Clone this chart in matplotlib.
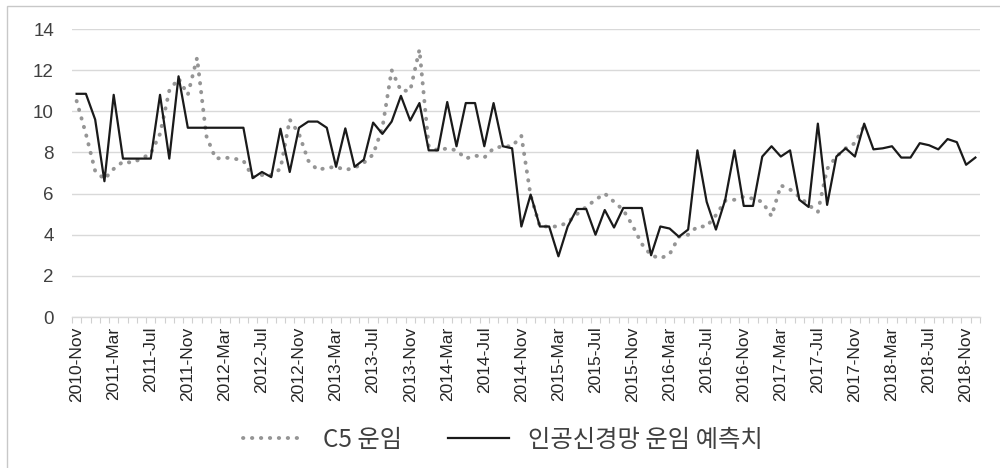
import numpy as np
import pandas as pd
import matplotlib
matplotlib.use("Agg")
import matplotlib.pyplot as plt
from matplotlib.lines import Line2D
from matplotlib.patches import Rectangle

# Monthly categories, 2010-Nov .. 2018-Dec
months = [p.strftime("%Y-%b") for p in pd.period_range("2010-11", "2018-12", freq="M")]

# C5 freight rate (actual), available through 2017-Dec
c5_rate = [
    10.5, 8.9, 7.1, 6.7, 7.2, 7.55, 7.5, 7.7, 7.95, 8.9,
    11.0, 11.6, 10.8, 12.6, 8.8, 7.7, 7.75, 7.7, 7.6, 6.8,
    6.9, 6.9, 7.2, 9.6, 8.9, 7.6, 7.15, 7.25, 7.3, 7.15,
    7.25, 7.5, 7.9, 9.2, 12.0, 11.0, 11.0, 13.0, 8.3, 8.1,
    8.2, 8.1, 7.7, 7.85, 7.75, 8.2, 8.3, 8.3, 8.8, 5.9,
    4.4, 4.4, 4.4, 4.6, 5.0, 5.35, 5.7, 6.0, 5.6, 5.2,
    4.45, 3.55, 3.0, 2.85, 3.05, 3.9, 4.0, 4.4, 4.4, 4.95,
    5.65, 5.7, 5.85, 5.75, 5.6, 4.9, 6.4, 6.2, 5.85, 5.45,
    5.1, 7.2, 7.8, 8.2, 8.45, 9.3,
]

# Neural-network forecast of the freight rate
ann_forecast = [
    10.85, 10.85, 9.6, 6.6, 10.8, 7.7, 7.7, 7.7, 7.7, 10.8,
    7.7, 11.7, 9.2, 9.2, 9.2, 9.2, 9.2, 9.2, 9.2, 6.75,
    7.05, 6.8, 9.15, 7.05, 9.2, 9.5, 9.5, 9.2, 7.3, 9.17,
    7.3, 7.65, 9.45, 8.9, 9.5, 10.75, 9.55, 10.4, 8.1, 8.1,
    10.45, 8.3, 10.4, 10.4, 8.3, 10.4, 8.3, 8.2, 4.4, 5.95,
    4.4, 4.4, 2.95, 4.4, 5.25, 5.25, 4.0, 5.2, 4.35, 5.3,
    5.3, 5.3, 3.0, 4.4, 4.3, 3.9, 4.25, 8.1, 5.6, 4.25,
    5.7, 8.1, 5.4, 5.4, 7.8, 8.3, 7.8, 8.1, 5.7, 5.35,
    9.4, 5.45, 7.8, 8.2, 7.8, 9.4, 8.15, 8.2, 8.3, 7.75,
    7.75, 8.45, 8.35, 8.15, 8.65, 8.5, 7.4, 7.75,
]

series_names = ["C5 운임", "인공신경망 운임 예측치"]
y_ticks = [0, 2, 4, 6, 8, 10, 12, 14]
label_step = 4

plt.rcParams["font.family"] = ["Noto Sans CJK KR", "DejaVu Sans"]

W, H = 1000, 468
fig = plt.figure(figsize=(W / 100, H / 100), dpi=100)
fig.patch.set_facecolor("white")

# chart-area frame
fig.add_artist(Rectangle((7 / W, -0.02), 1.1, 1 - 6 / H + 0.02, transform=fig.transFigure,
                         fill=False, edgecolor="#c8c8c8", linewidth=1.0))

ax = fig.add_axes([72 / W, 1 - 317 / H, (980 - 72) / W, (317 - 29) / H])
x = np.arange(len(months))
c5 = np.full(len(months), np.nan)
c5[:len(c5_rate)] = c5_rate

dot_style = dict(color="#959595", linewidth=2.8, linestyle=(0, (0.1, 2.2)), dash_capstyle="round")
ax.plot(x, c5, label=series_names[0], zorder=3, **dot_style)
ax.plot(x, ann_forecast, color="#1a1a1a", linewidth=1.6, label=series_names[1], zorder=4)

ax.set_xlim(-0.5, len(months) - 0.5)
ax.set_ylim(0, 14)
ax.set_yticks(y_ticks)
ax.set_yticklabels([str(v) for v in y_ticks], fontsize=13.5, color="#404040",
                   family=["Liberation Sans", "DejaVu Sans"])
ax.tick_params(axis="y", length=0, pad=13)
ax.grid(axis="y", color="#d9d9d9", linewidth=1.0)
ax.set_axisbelow(True)

ax.set_xticks(x[::label_step])
ax.set_xticklabels(months[::label_step], rotation=90, fontsize=12.5, color="#262626",
                   family=["Liberation Sans", "DejaVu Sans"], va="top")
ax.set_xticks(np.arange(-0.5, len(months), 1), minor=True)
ax.tick_params(axis="x", which="major", length=0, pad=7)
ax.tick_params(axis="x", which="minor", length=4, color="#d0d0d0", width=0.8)

for side in ("left", "right", "top"):
    ax.spines[side].set_visible(False)
ax.spines["bottom"].set_color("#d9d9d9")
ax.spines["bottom"].set_linewidth(1.0)

handles = [
    Line2D([], [], **dot_style),
    Line2D([], [], color="#1a1a1a", linewidth=1.6),
]
fig.legend(handles, series_names, loc="center", bbox_to_anchor=(0.503, 1 - 440 / H),
           ncol=2, frameon=False, fontsize=17.5, handlelength=2.5, handletextpad=0.8,
           columnspacing=1.9, labelcolor="#404040")

fig.savefig("out.png", dpi=100, facecolor="white")
